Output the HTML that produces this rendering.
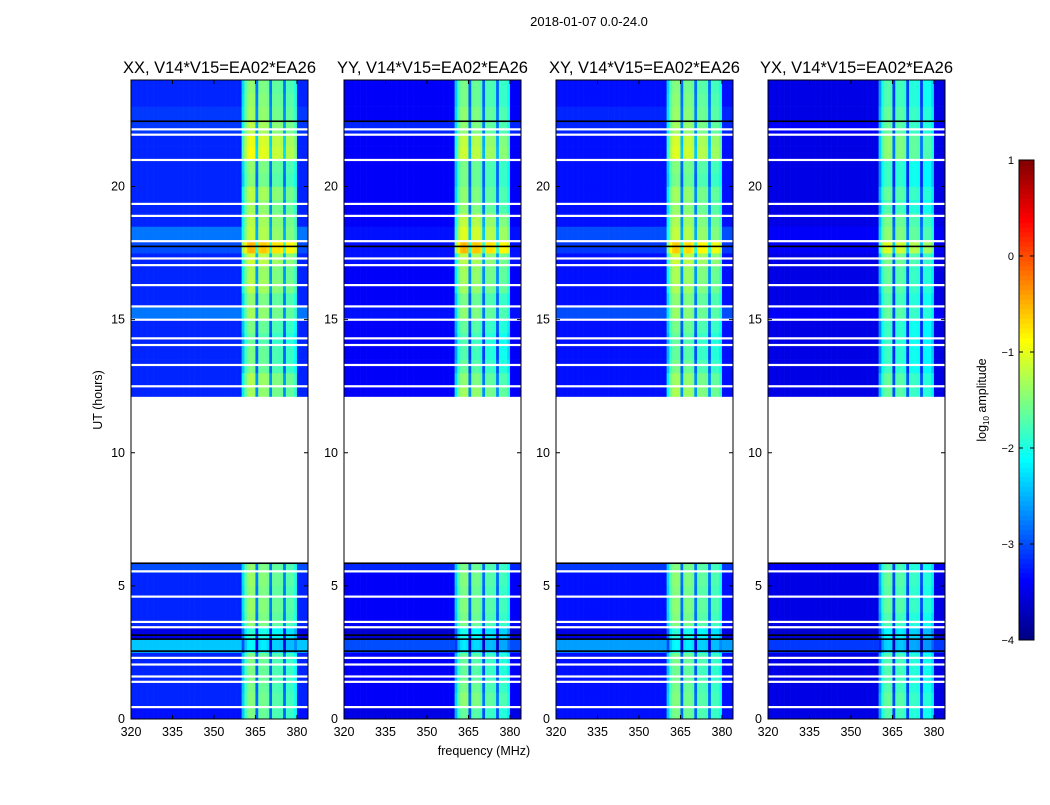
<!DOCTYPE html>
<html><head><meta charset="utf-8">
<style>
body{margin:0;background:#fff;}
svg text{font-family:"Liberation Sans",sans-serif;fill:#000;}
</style></head>
<body>
<svg id="fig" width="1050" height="800" viewBox="0 0 1050 800" xmlns="http://www.w3.org/2000/svg"></svg>
<script>
// ---- data ----
const panelTitles = ["XX, V14*V15=EA02*EA26","YY, V14*V15=EA02*EA26","XY, V14*V15=EA02*EA26","YX, V14*V15=EA02*EA26"];
const freqStart = 320, freqStep = 1;
// log10 amplitude per 1-MHz channel 320..383 (null = background channel)
const freqBase = [null,null,null,null,null,null,null,null,null,null,null,null,null,null,null,null,
 null,null,null,null,null,null,null,null,null,null,null,null,null,null,null,null,
 null,null,null,null,null,null,null,null,-2.4,-1.8,-1.55,-1.5,-1.55,-2.9,-1.65,-1.6,-1.6,-1.7,-2.9,-1.75,-1.75,-1.75,-1.8,-2.9,-1.85,-1.85,-1.85,-2.1,null,null,null,null];
// band brightness offset per 0.5-h bin (null = no data)
const bandXX = [0,0.05,0,0,0,-0.6,-0.4,0.1,0.15,0.1,0.15,0.1,null,null,null,null,null,null,null,null,null,null,null,null,0.2,0.25,0,0,-0.1,0,0.2,0.1,0.3,0.25,0.4,1.0,0.35,0.3,0.2,0.3,0.05,0.1,0.6,0.55,0.3,0.2,0.15,0.1];
const bandYY = [-0.1,0.1,0,-0.1,-0.1,-0.7,-0.5,0,0.05,0,0.05,0,null,null,null,null,null,null,null,null,null,null,null,null,0.2,0.1,-0.1,-0.2,-0.2,-0.1,0.1,0,0.2,0.2,0.3,1.0,0.5,0.35,0.1,0.1,0,0,0.4,0.35,0.1,0.1,0,0];
const bandXY = [0,0.05,0,-0.05,0,-0.6,-0.4,0.05,0.1,0.05,0.1,0.05,null,null,null,null,null,null,null,null,null,null,null,null,0.25,0.2,0,-0.1,-0.1,0,0.15,0.1,0.25,0.25,0.4,0.9,0.35,0.25,0.15,0.2,0,0.05,0.5,0.45,0.2,0.15,0.1,0.05];
const bandYX = [-0.2,-0.1,-0.2,-0.2,-0.2,-0.8,-0.6,-0.2,-0.1,-0.15,-0.1,-0.2,null,null,null,null,null,null,null,null,null,null,null,null,-0.1,-0.1,-0.3,-0.3,-0.3,-0.3,-0.1,-0.2,-0.1,-0.1,0,0.5,0.1,0,-0.2,-0.1,-0.3,-0.3,0.1,0.1,-0.1,-0.1,-0.2,-0.2];
// background log10 amplitude per 0.5-h bin
const bgXX = [-3.3,-3.2,-3.2,-3.2,-3.2,-2.4,-3.5,-3.2,-3.2,-3.2,-3.2,-3.0,null,null,null,null,null,null,null,null,null,null,null,null,-3.2,-3.2,-3.2,-3.2,-3.2,-3.2,-2.8,-3.2,-3.2,-3.2,-3.2,-3.0,-2.8,-3.2,-3.2,-3.2,-3.2,-3.2,-3.2,-3.2,-3.1,-3.1,-3.2,-3.2];
const bgYY = [-3.5,-3.4,-3.4,-3.4,-3.4,-3.0,-3.6,-3.4,-3.4,-3.4,-3.4,-3.2,null,null,null,null,null,null,null,null,null,null,null,null,-3.4,-3.4,-3.4,-3.4,-3.4,-3.4,-3.3,-3.4,-3.4,-3.4,-3.3,-3.3,-3.3,-3.4,-3.4,-3.4,-3.4,-3.4,-3.4,-3.4,-3.2,-3.4,-3.4,-3.4];
const bgXY = [-3.3,-3.3,-3.3,-3.3,-3.3,-2.6,-3.5,-3.3,-3.3,-3.3,-3.3,-3.1,null,null,null,null,null,null,null,null,null,null,null,null,-3.3,-3.3,-3.3,-3.3,-3.3,-3.3,-3.0,-3.3,-3.3,-3.3,-3.3,-3.1,-3.0,-3.3,-3.3,-3.3,-3.3,-3.3,-3.3,-3.3,-3.2,-3.2,-3.3,-3.3];
const bgYX = [-3.5,-3.5,-3.5,-3.5,-3.5,-3.1,-3.6,-3.5,-3.5,-3.5,-3.5,-3.4,null,null,null,null,null,null,null,null,null,null,null,null,-3.5,-3.5,-3.5,-3.5,-3.5,-3.5,-3.4,-3.5,-3.5,-3.5,-3.5,-3.4,-3.4,-3.5,-3.5,-3.5,-3.5,-3.5,-3.5,-3.5,-3.4,-3.5,-3.5,-3.5];
// flagged times (hours)
const whiteLines = [0.45,1.4,1.6,2.05,2.3,3.45,3.65,4.6,5.55,12.5,13.3,14.05,14.3,15.0,15.5,16.3,17.05,17.3,17.95,18.9,19.35,21.0,21.95,22.15];
const blackLines = [2.55,3.0,3.15,5.85,17.75,22.45];
const gapStart = 5.85, gapEnd = 12.1;
const xTicks = [320,335,350,365,380];
const yTicks = [0,5,10,15,20];
const cbTicks = [1,0,-1,-2,-3,-4];
const cbTickLabels = ["1","0","\u22121","\u22122","\u22123","\u22124"];

const bands=[bandXX,bandYY,bandXY,bandYX], bgs=[bgXX,bgYY,bgXY,bgYX];
const panelX=[131,344,556,768], PW=177, PT=80, PB=719;
const NS="http://www.w3.org/2000/svg", svg=document.getElementById('fig');
function el(t,a,p){const e=document.createElementNS(NS,t);for(const k in a)e.setAttribute(k,a[k]);(p||svg).appendChild(e);return e;}
function jet(v){let t=(v+4)/5;t=Math.max(0,Math.min(1,t));
 const r=Math.max(0,Math.min(1,1.5-Math.abs(4*t-3))),g=Math.max(0,Math.min(1,1.5-Math.abs(4*t-2))),b=Math.max(0,Math.min(1,1.5-Math.abs(4*t-1)));
 return `rgb(${Math.round(r*255)},${Math.round(g*255)},${Math.round(b*255)})`;}
const yScale=h=>PB-(h/24)*(PB-PT);
function xScale(p,f){return panelX[p]+(f-320)/(384-320)*PW;}

const title=el('text',{x:589,y:26,'font-size':13,'text-anchor':'middle'});title.textContent="2018-01-07 0.0-24.0";


for(let p=0;p<4;p++){
 const g=el('g',{});
 
 
 el('rect',{x:panelX[p],y:PT,width:PW,height:PB-PT,fill:'#fff'},g);
 for(let r=0;r<48;r++){
  if(bgs[p][r]===null)continue;
  const y0=yScale((r+1)*0.5), y1=yScale(r*0.5);
  for(let c=0;c<64;c++){
   const f=freqStart+c*freqStep;
   const v=freqBase[c]===null?bgs[p][r]:freqBase[c]+bands[p][r];
   const x0=xScale(p,f),x1=xScale(p,f+freqStep);
   const cell=el('rect',{x:x0.toFixed(2),y:y0.toFixed(2),width:(x1-x0+0.3).toFixed(2),height:(y1-y0+0.3).toFixed(2),fill:jet(v)},g);
   
   
  }
 }
 const gap=el('rect',{x:panelX[p],y:yScale(gapEnd),width:PW,height:yScale(gapStart)-yScale(gapEnd),fill:'#fff'},g);
 
 whiteLines.forEach(t=>{const l=el('rect',{x:panelX[p],y:yScale(t)-1,width:PW,height:2.2,fill:'#fff'},g);
  });
 blackLines.forEach(t=>{const l=el('rect',{x:panelX[p],y:yScale(t)-0.8,width:PW,height:1.6,fill:'#000'},g);
  });
 const fr=el('rect',{x:panelX[p],y:PT,width:PW,height:PB-PT,fill:'none',stroke:'#000','stroke-width':1},g);
 
 xTicks.forEach(v=>{const x=xScale(p,v);
  el('line',{x1:x,x2:x,y1:PB,y2:PB-4,stroke:'#000'},g);el('line',{x1:x,x2:x,y1:PT,y2:PT+4,stroke:'#000'},g);
  const t=el('text',{x:x,y:PB+17,'font-size':12.5,'text-anchor':'middle'},g);t.textContent=v;
  });
 yTicks.forEach(v=>{const y=yScale(v);
  el('line',{x1:panelX[p],x2:panelX[p]+4,y1:y,y2:y,stroke:'#000'},g);el('line',{x1:panelX[p]+PW,x2:panelX[p]+PW-4,y1:y,y2:y,stroke:'#000'},g);
  const t=el('text',{x:panelX[p]-6,y:y+4,'font-size':12.5,'text-anchor':'end'},g);t.textContent=v;
  });
 const pt=el('text',{x:panelX[p]+PW/2,y:PT-7,'font-size':16.5,'text-anchor':'middle'},g);pt.textContent=panelTitles[p];
 
}
const yl=el('text',{x:102,y:400,'font-size':12.5,'text-anchor':'middle',transform:'rotate(-90 102 400)'});yl.textContent="UT (hours)";

const xl=el('text',{x:484,y:755,'font-size':12.5,'text-anchor':'middle'});xl.textContent="frequency (MHz)";


// colorbar
const CX=1019,CW=15,CT=160,CB=640;
const cb=el('g',{});
const cy=v=>CB-(v+4)/5*(CB-CT);
for(let i=0;i<100;i++){const v0=-4+i*0.05;
 el('rect',{x:CX,y:cy(v0+0.05),width:CW,height:(CB-CT)/100+0.5,fill:jet(v0+0.025)},cb);}
el('rect',{x:CX,y:CT,width:CW,height:CB-CT,fill:'none',stroke:'#000'},cb);
cbTicks.forEach((v,i)=>{const y=cy(v);
 el('line',{x1:CX,x2:CX+4,y1:y,y2:y,stroke:'#000'},cb);el('line',{x1:CX+CW,x2:CX+CW-4,y1:y,y2:y,stroke:'#000'},cb);
 const t=el('text',{x:CX-5,y:y+4,'font-size':11,'text-anchor':'end'},cb);t.textContent=cbTickLabels[i];
 });
const cl=el('text',{x:986,y:400,'font-size':12.5,'text-anchor':'middle',transform:'rotate(-90 986 400)'});
cl.innerHTML='log<tspan font-size="8" dy="3">10</tspan><tspan dy="-3"> amplitude</tspan>';

</script>
</body></html>
